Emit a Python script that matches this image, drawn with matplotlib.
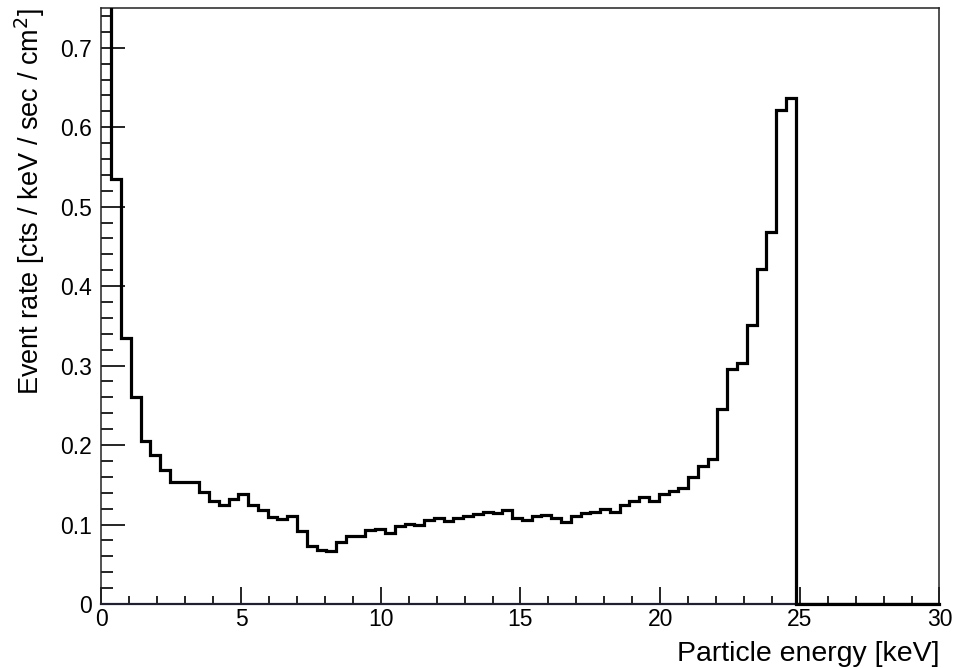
import numpy as np
import matplotlib
matplotlib.use("Agg")
import matplotlib.pyplot as plt
from matplotlib.ticker import MultipleLocator

plt.rcParams['font.family'] = ['Liberation Sans', 'DejaVu Sans']

# histogram: 100 bins of 0.35 keV (0..35 keV), only first 71 are filled
bin_width = 0.35
n_bins = 100
rate = [0.95, 0.535, 0.335, 0.260, 0.205, 0.188, 0.169, 0.153, 0.153, 0.153,
        0.141, 0.130, 0.125, 0.132, 0.139, 0.125, 0.118, 0.109, 0.107, 0.111,
        0.092, 0.0735, 0.068, 0.067, 0.078, 0.086, 0.086, 0.0925, 0.095, 0.089,
        0.098, 0.101, 0.099, 0.1055, 0.108, 0.104, 0.1085, 0.1105, 0.1135, 0.1155,
        0.115, 0.118, 0.1085, 0.1055, 0.1105, 0.1125, 0.1085, 0.103, 0.1105, 0.114,
        0.116, 0.119, 0.116, 0.125, 0.129, 0.135, 0.129, 0.138, 0.142, 0.146,
        0.160, 0.174, 0.183, 0.245, 0.296, 0.303, 0.351, 0.421, 0.468, 0.622,
        0.637]
counts = np.zeros(n_bins)
counts[:len(rate)] = rate
edges = np.arange(n_bins + 1) * bin_width
filled_end = len(rate) * bin_width

fig = plt.figure(figsize=(9.54, 6.68), dpi=100)
ax = fig.add_axes([101.5 / 954, 1 - 604 / 668, (939.5 - 101.5) / 954, (604 - 8) / 668])

# navy zero line under the filled part
ax.plot([0, filled_end], [0, 0], color='#1c1c5c', lw=1.6, zorder=2, clip_on=False)
ax.stairs(counts, edges, color='black', lw=2.3, baseline=None, zorder=3)
ax.plot([filled_end, 30], [0, 0], color='black', lw=2.3, zorder=3, clip_on=False)

ax.set_xlim(0, 30)
ax.set_ylim(0, 0.75)

ax.xaxis.set_major_locator(MultipleLocator(5))
ax.xaxis.set_minor_locator(MultipleLocator(1))
ax.yaxis.set_major_locator(MultipleLocator(0.1))
ax.yaxis.set_minor_locator(MultipleLocator(0.02))
ax.set_xticks([0, 5, 10, 15, 20, 25, 30], ['0', '5', '10', '15', '20', '25', '30'])
ax.set_yticks([0, 0.1, 0.2, 0.3, 0.4, 0.5, 0.6, 0.7],
              ['0', '0.1', '0.2', '0.3', '0.4', '0.5', '0.6', '0.7'])

ax.tick_params(axis='x', which='major', direction='in', length=12.5, width=1.2,
               labelsize=16.5, pad=3)
ax.tick_params(axis='x', which='minor', direction='in', length=6, width=1.2)
ax.tick_params(axis='y', which='major', direction='in', length=17.5, width=1.2,
               labelsize=16.5, pad=7)
ax.tick_params(axis='y', which='minor', direction='in', length=8.5, width=1.2)
ax.tick_params(top=False, right=False, which='both')

for s in ax.spines.values():
    s.set_linewidth(1.1)
    s.set_color('#222222')

ax.set_xlabel('Particle energy [keV]', fontsize=20.5, loc='right', labelpad=7)
ax.set_ylabel('Event rate [cts / keV / sec / cm$^2$]', fontsize=19.5, loc='top', labelpad=9)

fig.savefig('out.png', dpi=100)
